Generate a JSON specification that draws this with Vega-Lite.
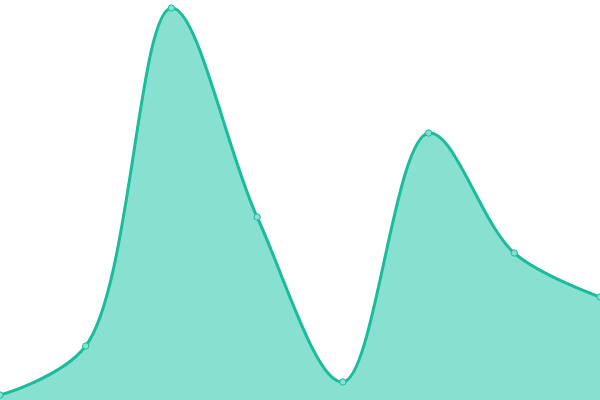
{
  "$schema": "https://vega.github.io/schema/vega-lite/v6.json",
  "width": 600,
  "height": 400,
  "autosize": {"type": "none"},
  "padding": 0,
  "data": {
    "values": [
      {"x": 0, "y": 5},
      {"x": 1, "y": 54},
      {"x": 2, "y": 392},
      {"x": 3, "y": 183},
      {"x": 4, "y": 18},
      {"x": 5, "y": 267},
      {"x": 6, "y": 147},
      {"x": 7, "y": 103}
    ]
  },
  "encoding": {
    "x": {"field": "x", "type": "quantitative", "axis": null, "scale": {"domain": [0, 7], "nice": false}},
    "y": {"field": "y", "type": "quantitative", "axis": null, "scale": {"domain": [0, 400], "nice": false}}
  },
  "layer": [
    {"mark": {"type": "area", "interpolate": "catmull-rom", "color": "#88e0d0", "opacity": 1}},
    {"mark": {"type": "line", "interpolate": "catmull-rom", "color": "#1abc9c", "strokeWidth": 3}},
    {"mark": {"type": "point", "filled": true, "fill": "#88e0d0", "stroke": "#1abc9c", "strokeWidth": 1, "size": 40, "opacity": 1}}
  ],
  "config": {"view": {"stroke": null}}
}
